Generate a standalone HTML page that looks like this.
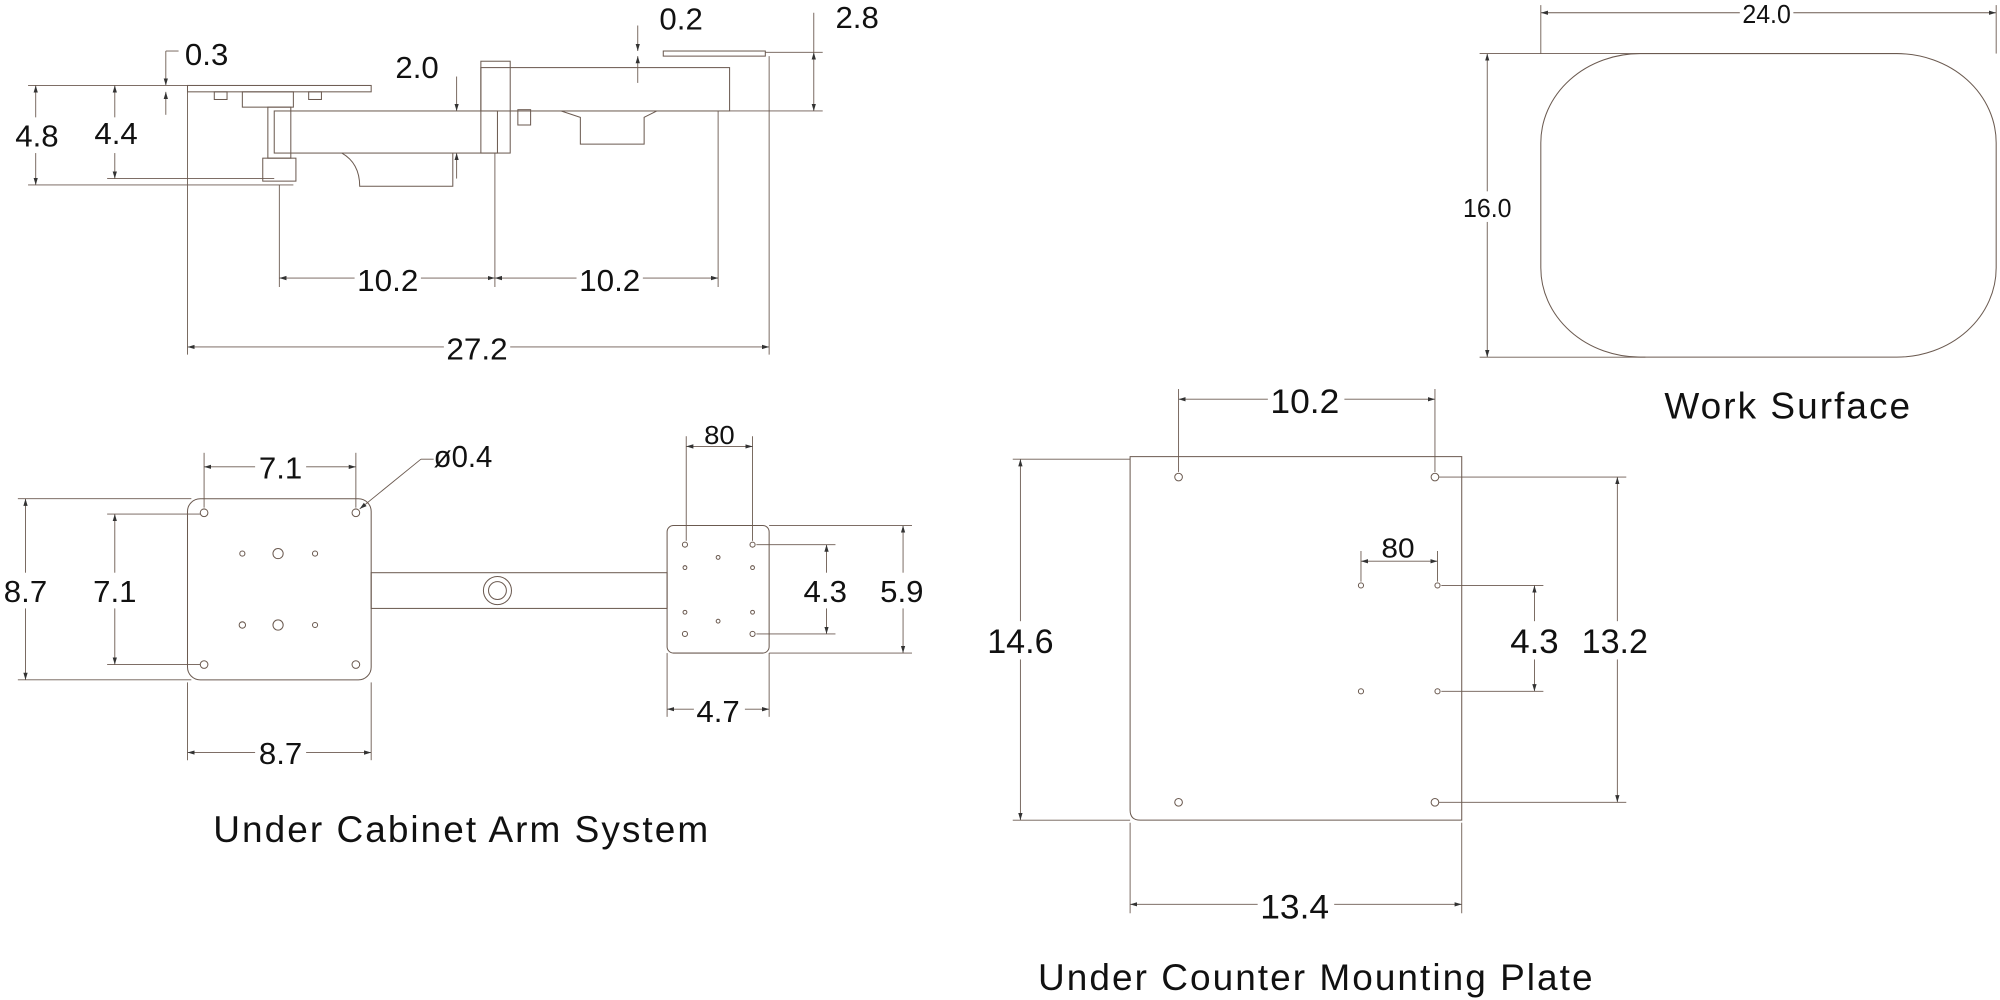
<!DOCTYPE html>
<html><head><meta charset="utf-8"><style>
html,body{margin:0;padding:0;background:#fff;width:2000px;height:1000px;overflow:hidden}
svg{display:block}
.l{stroke:#6b5a50;stroke-width:0.8;fill:none}
.d{stroke:#6b5a50;stroke-width:0.7;fill:none}
.dim{font-family:"Liberation Sans",sans-serif;font-size:24px;fill:#111}
.t{font-family:"Liberation Sans",sans-serif;font-size:29px;fill:#111;letter-spacing:1.6px}
</style></head><body>
<svg width="2000" height="1000" viewBox="0 0 1568 784" xmlns="http://www.w3.org/2000/svg">
<defs>
<marker id="a" viewBox="0 0 10 10" refX="10" refY="5" markerWidth="8" markerHeight="8" orient="auto-start-reverse"><path d="M0,2 L10,5 L0,8 z" fill="#333"/></marker>
</defs>
<g font-family="Liberation Sans">
<!-- TOP SIDE VIEW -->
<g class="l">
<rect x="147" y="67" width="144" height="5"/>
<rect x="168" y="72" width="10" height="6"/><rect x="190" y="72" width="40" height="12"/><rect x="242" y="72" width="10" height="6"/>
<rect x="215" y="87" width="175" height="33"/>
<rect x="210" y="84" width="18" height="40"/>
<rect x="206" y="124" width="26" height="18"/>
<path d="M268,120 Q282,128 282,146 L355,146 L355,120"/>
<rect x="377" y="53" width="195" height="34"/>
<rect x="377" y="48" width="23" height="72"/>
<rect x="406" y="86" width="10" height="12"/>
<path d="M440,87 L455,92 L455,113 L505,113 L505,92 L515,87"/>
<rect x="520" y="40" width="80" height="4"/>
</g>
<g class="d">
<line x1="22" y1="67" x2="147" y2="67"/><line x1="22" y1="145" x2="230" y2="145"/>
<line x1="28" y1="67" x2="28" y2="145" marker-start="url(#a)" marker-end="url(#a)"/>
<line x1="84" y1="140" x2="215" y2="140"/>
<line x1="90" y1="67" x2="90" y2="140" marker-start="url(#a)" marker-end="url(#a)"/>
<line x1="130" y1="40" x2="130" y2="67" marker-end="url(#a)"/><line x1="130" y1="90" x2="130" y2="72" marker-end="url(#a)"/>
<line x1="130" y1="40" x2="140" y2="40"/>
<line x1="358" y1="60" x2="358" y2="87" marker-end="url(#a)"/><line x1="358" y1="140" x2="358" y2="120" marker-end="url(#a)"/>
<line x1="500" y1="20" x2="500" y2="40" marker-end="url(#a)"/><line x1="500" y1="65" x2="500" y2="44" marker-end="url(#a)"/>
<line x1="600" y1="41" x2="645" y2="41"/><line x1="572" y1="87" x2="645" y2="87"/>
<line x1="638" y1="10" x2="638" y2="41"/><line x1="638" y1="41" x2="638" y2="87" marker-start="url(#a)" marker-end="url(#a)"/>
<line x1="147" y1="72" x2="147" y2="278"/><line x1="219" y1="145" x2="219" y2="225"/>
<line x1="388" y1="120" x2="388" y2="225"/><line x1="563" y1="87" x2="563" y2="225"/><line x1="603" y1="44" x2="603" y2="278"/>
<line x1="219" y1="218" x2="388" y2="218" marker-start="url(#a)" marker-end="url(#a)"/>
<line x1="388" y1="218" x2="563" y2="218" marker-start="url(#a)" marker-end="url(#a)"/>
<line x1="147" y1="272" x2="603" y2="272" marker-start="url(#a)" marker-end="url(#a)"/>
</g>
<rect x="12" y="92" width="34" height="28" fill="#fff"/><text class="dim" x="12" y="115" textLength="34" lengthAdjust="spacingAndGlyphs">4.8</text>
<rect x="74" y="92" width="34" height="28" fill="#fff"/><text class="dim" x="74" y="113" textLength="34" lengthAdjust="spacingAndGlyphs">4.4</text>
<text class="dim" x="145" y="51" textLength="34" lengthAdjust="spacingAndGlyphs">0.3</text>
<text class="dim" x="310" y="61" textLength="34" lengthAdjust="spacingAndGlyphs">2.0</text>
<text class="dim" x="517" y="23" textLength="34" lengthAdjust="spacingAndGlyphs">0.2</text>
<text class="dim" x="655" y="22" textLength="34" lengthAdjust="spacingAndGlyphs">2.8</text>
<rect x="278" y="205" width="52" height="28" fill="#fff"/><text class="dim" x="280" y="228" textLength="48" lengthAdjust="spacingAndGlyphs">10.2</text>
<rect x="452" y="205" width="52" height="28" fill="#fff"/><text class="dim" x="454" y="228" textLength="48" lengthAdjust="spacingAndGlyphs">10.2</text>
<rect x="348" y="259" width="52" height="28" fill="#fff"/><text class="dim" x="350" y="282" textLength="48" lengthAdjust="spacingAndGlyphs">27.2</text>

<!-- PLAN VIEW -->
<g class="l">
<rect x="147" y="391" width="144" height="142" rx="10"/>
<circle cx="160" cy="402" r="3"/><circle cx="279" cy="402" r="3"/><circle cx="160" cy="521" r="3"/><circle cx="279" cy="521" r="3"/>
<circle cx="190" cy="434" r="2"/><circle cx="218" cy="434" r="4"/><circle cx="247" cy="434" r="2"/>
<circle cx="190" cy="490" r="2.5"/><circle cx="218" cy="490" r="4"/><circle cx="247" cy="490" r="2"/>
<rect x="291" y="449" width="232" height="28"/>
<circle cx="390" cy="463" r="11"/><circle cx="390" cy="463" r="7"/>
<rect x="523" y="412" width="80" height="100" rx="5"/>
<circle cx="537" cy="427" r="2"/><circle cx="590" cy="427" r="2"/><circle cx="537" cy="497" r="2"/><circle cx="590" cy="497" r="2"/>
<circle cx="537" cy="445" r="1.5"/><circle cx="563" cy="437" r="1.5"/><circle cx="590" cy="445" r="1.5"/>
<circle cx="537" cy="480" r="1.5"/><circle cx="563" cy="487" r="1.5"/><circle cx="590" cy="480" r="1.5"/>
</g>
<g class="d">
<line x1="160" y1="355" x2="160" y2="398"/><line x1="279" y1="355" x2="279" y2="398"/>
<line x1="160" y1="366" x2="279" y2="366" marker-start="url(#a)" marker-end="url(#a)"/>
<line x1="147" y1="535" x2="147" y2="596"/><line x1="291" y1="535" x2="291" y2="596"/>
<line x1="147" y1="590" x2="291" y2="590" marker-start="url(#a)" marker-end="url(#a)"/>
<line x1="14" y1="391" x2="150" y2="391"/><line x1="14" y1="533" x2="150" y2="533"/>
<line x1="20" y1="391" x2="20" y2="533" marker-start="url(#a)" marker-end="url(#a)"/>
<line x1="84" y1="403" x2="157" y2="403"/><line x1="84" y1="521" x2="157" y2="521"/>
<line x1="90" y1="403" x2="90" y2="521" marker-start="url(#a)" marker-end="url(#a)"/>
<line x1="340" y1="360" x2="330" y2="360"/><line x1="330" y1="360" x2="282" y2="399" marker-end="url(#a)"/>
<line x1="538" y1="342" x2="538" y2="424"/><line x1="590" y1="342" x2="590" y2="424"/>
<line x1="538" y1="350" x2="590" y2="350" marker-start="url(#a)" marker-end="url(#a)"/>
<line x1="593" y1="427" x2="655" y2="427"/><line x1="593" y1="497" x2="655" y2="497"/>
<line x1="648" y1="427" x2="648" y2="497" marker-start="url(#a)" marker-end="url(#a)"/>
<line x1="603" y1="412" x2="715" y2="412"/><line x1="603" y1="512" x2="715" y2="512"/>
<line x1="708" y1="412" x2="708" y2="512" marker-start="url(#a)" marker-end="url(#a)"/>
<line x1="523" y1="512" x2="523" y2="562"/><line x1="603" y1="512" x2="603" y2="562"/>
<line x1="523" y1="556" x2="603" y2="556" marker-start="url(#a)" marker-end="url(#a)"/>
</g>
<rect x="200" y="353" width="40" height="26" fill="#fff"/><text class="dim" x="203" y="375" textLength="34" lengthAdjust="spacingAndGlyphs">7.1</text>
<rect x="200" y="577" width="40" height="26" fill="#fff"/><text class="dim" x="203" y="599" textLength="34" lengthAdjust="spacingAndGlyphs">8.7</text>
<rect x="2" y="449" width="38" height="28" fill="#fff"/><text class="dim" x="3" y="472" textLength="34" lengthAdjust="spacingAndGlyphs">8.7</text>
<rect x="72" y="449" width="38" height="28" fill="#fff"/><text class="dim" x="73" y="472" textLength="34" lengthAdjust="spacingAndGlyphs">7.1</text>
<text class="dim" x="340" y="366" textLength="46" lengthAdjust="spacingAndGlyphs">ø0.4</text>
<text class="dim" x="552" y="348" textLength="24" lengthAdjust="spacingAndGlyphs" style="font-size:20px">80</text>
<rect x="628" y="449" width="40" height="28" fill="#fff"/><text class="dim" x="630" y="472" textLength="34" lengthAdjust="spacingAndGlyphs">4.3</text>
<rect x="688" y="449" width="40" height="28" fill="#fff"/><text class="dim" x="690" y="472" textLength="34" lengthAdjust="spacingAndGlyphs">5.9</text>
<rect x="544" y="543" width="40" height="26" fill="#fff"/><text class="dim" x="546" y="566" textLength="34" lengthAdjust="spacingAndGlyphs">4.7</text>
<text class="t" x="362" y="660" text-anchor="middle">Under Cabinet Arm System</text>

<!-- MOUNTING PLATE -->
<g class="l">
<path d="M886,358 L1146,358 L1146,643 L894,643 Q886,643 886,635 Z"/>
<circle cx="924" cy="374" r="3"/><circle cx="1125" cy="374" r="3"/><circle cx="924" cy="629" r="3"/><circle cx="1125" cy="629" r="3"/>
<circle cx="1067" cy="459" r="2"/><circle cx="1127" cy="459" r="2"/><circle cx="1067" cy="542" r="2"/><circle cx="1127" cy="542" r="2"/>
</g>
<g class="d">
<line x1="924" y1="305" x2="924" y2="370"/><line x1="1125" y1="305" x2="1125" y2="370"/>
<line x1="924" y1="313" x2="1125" y2="313" marker-start="url(#a)" marker-end="url(#a)"/>
<line x1="794" y1="360" x2="886" y2="360"/><line x1="794" y1="643" x2="886" y2="643"/>
<line x1="800" y1="360" x2="800" y2="643" marker-start="url(#a)" marker-end="url(#a)"/>
<line x1="1128" y1="374" x2="1275" y2="374"/><line x1="1128" y1="629" x2="1275" y2="629"/>
<line x1="1268" y1="374" x2="1268" y2="629" marker-start="url(#a)" marker-end="url(#a)"/>
<line x1="1130" y1="459" x2="1210" y2="459"/><line x1="1130" y1="542" x2="1210" y2="542"/>
<line x1="1203" y1="459" x2="1203" y2="542" marker-start="url(#a)" marker-end="url(#a)"/>
<line x1="1067" y1="432" x2="1067" y2="456"/><line x1="1127" y1="432" x2="1127" y2="456"/>
<line x1="1067" y1="440" x2="1127" y2="440" marker-start="url(#a)" marker-end="url(#a)"/>
<line x1="886" y1="645" x2="886" y2="716"/><line x1="1146" y1="645" x2="1146" y2="716"/>
<line x1="886" y1="709" x2="1146" y2="709" marker-start="url(#a)" marker-end="url(#a)"/>
</g>
<rect x="994" y="300" width="60" height="28" fill="#fff"/><text class="dim" x="996" y="324" textLength="54" lengthAdjust="spacingAndGlyphs" style="font-size:27px">10.2</text>
<rect x="772" y="487" width="56" height="30" fill="#fff"/><text class="dim" x="774" y="512" textLength="52" lengthAdjust="spacingAndGlyphs" style="font-size:27px">14.6</text>
<rect x="1238" y="487" width="56" height="30" fill="#fff"/><text class="dim" x="1240" y="512" textLength="52" lengthAdjust="spacingAndGlyphs" style="font-size:27px">13.2</text>
<rect x="1183" y="487" width="40" height="30" fill="#fff"/><text class="dim" x="1184" y="512" textLength="38" lengthAdjust="spacingAndGlyphs" style="font-size:27px">4.3</text>
<text class="dim" x="1083" y="437" textLength="26" lengthAdjust="spacingAndGlyphs" style="font-size:22px">80</text>
<rect x="986" y="696" width="60" height="28" fill="#fff"/><text class="dim" x="988" y="720" textLength="54" lengthAdjust="spacingAndGlyphs" style="font-size:27px">13.4</text>
<text class="t" x="1032" y="776" text-anchor="middle">Under Counter Mounting Plate</text>

<!-- WORK SURFACE -->
<g class="l"><rect x="1208" y="42" width="357" height="238" rx="78" ry="70"/></g>
<g class="d">
<line x1="1208" y1="4" x2="1208" y2="42"/><line x1="1565" y1="4" x2="1565" y2="42"/>
<line x1="1208" y1="10" x2="1565" y2="10" marker-start="url(#a)" marker-end="url(#a)"/>
<line x1="1160" y1="42" x2="1290" y2="42"/><line x1="1160" y1="280" x2="1290" y2="280"/>
<line x1="1166" y1="42" x2="1166" y2="280" marker-start="url(#a)" marker-end="url(#a)"/>
</g>
<rect x="1364" y="0" width="42" height="22" fill="#fff"/><text class="dim" x="1366" y="18" textLength="38" lengthAdjust="spacingAndGlyphs" style="font-size:20px">24.0</text>
<rect x="1146" y="150" width="42" height="24" fill="#fff"/><text class="dim" x="1147" y="170" textLength="38" lengthAdjust="spacingAndGlyphs" style="font-size:20px">16.0</text>
<text class="t" x="1402" y="328" text-anchor="middle">Work Surface</text>
</g>
</svg>
</body></html>
